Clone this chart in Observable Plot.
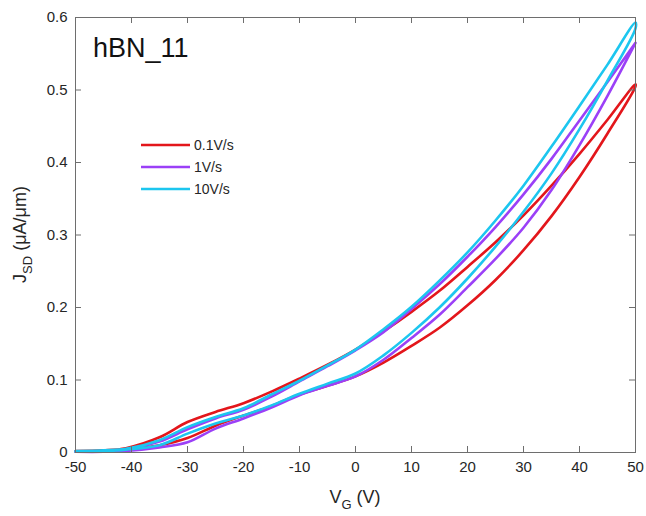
<!DOCTYPE html>
<html>
<head>
<meta charset="utf-8">
<script src="https://cdn.jsdelivr.net/npm/d3@7"></script>
<script src="https://cdn.jsdelivr.net/npm/@observablehq/plot@0.6"></script>
<style>
  html, body { margin: 0; padding: 0; background: #fff; }
  #chart { width: 646px; height: 516px; }
</style>
</head>
<body>
<div id="chart"></div>
<script>
// ---- data ----
const vg = [-50,-45,-41,-35,-30,-25,-20,-15,-10,-5,0,5,10,15,20,25,30,35,40,45,50];

const red_up    = [0.002,0.003,0.006,0.021,0.042,0.056,0.068,0.084,0.102,0.121,0.142,0.167,0.194,0.223,0.256,0.290,0.327,0.368,0.412,0.459,0.508];
const red_down  = [0.001,0.002,0.004,0.010,0.020,0.037,0.051,0.064,0.080,0.092,0.105,0.124,0.147,0.172,0.203,0.238,0.279,0.326,0.380,0.440,0.505];
const purple_up   = [0.001,0.002,0.004,0.015,0.032,0.047,0.059,0.077,0.098,0.119,0.141,0.166,0.198,0.232,0.270,0.311,0.356,0.405,0.458,0.511,0.565];
const purple_down = [0.001,0.001,0.002,0.007,0.014,0.033,0.047,0.062,0.079,0.092,0.105,0.128,0.158,0.190,0.228,0.267,0.310,0.362,0.424,0.492,0.565];
const cyan_up   = [0.002,0.003,0.005,0.017,0.035,0.049,0.061,0.080,0.099,0.120,0.142,0.170,0.201,0.237,0.276,0.320,0.368,0.422,0.478,0.535,0.593];
const cyan_down = [0.001,0.002,0.004,0.010,0.026,0.040,0.051,0.065,0.081,0.095,0.109,0.134,0.165,0.200,0.240,0.284,0.332,0.385,0.446,0.513,0.585];

const seriesNames = ["0.1V/s", "1V/s", "10V/s"];
const seriesColors = ["#e3161b", "#9b40f7", "#1cc6ef"];
const xTicks = [-50,-40,-30,-20,-10,0,10,20,30,40,50];
const yTicks = [0,0.1,0.2,0.3,0.4,0.5,0.6];
const titleText = "hBN_11";

// ---- build loop table: sweep up on lower branch, back down on upper branch ----
const branches = [
  [seriesNames[0], red_down, red_up],
  [seriesNames[1], purple_down, purple_up],
  [seriesNames[2], cyan_down, cyan_up]
];
const rows = [];
for (const [name, down, up] of branches) {
  vg.forEach((v, i) => rows.push({s: name, v, j: down[i]}));
  for (let i = vg.length - 1; i >= 0; i--) rows.push({s: name, v: vg[i], j: up[i]});
}

const W = 646, H = 516, mL = 75, mR = 11, mT = 17, mB = 64;
const innerH = H - mT - mB, innerW = W - mL - mR;
const tickLen = 6;
const frameColor = "#6e6e6e";
const fmt = d => String(d);

const chart = Plot.plot({
  width: W, height: H,
  marginLeft: mL, marginRight: mR, marginTop: mT, marginBottom: mB,
  style: {fontFamily: "'Liberation Sans', Arial, sans-serif", color: "#262626", background: "#fff"},
  x: {domain: [-50, 50]},
  y: {domain: [0, 0.6]},
  color: {domain: seriesNames, range: seriesColors},
  marks: [
    Plot.line(rows, {x: "v", y: "j", z: "s", stroke: "s", strokeWidth: 2.6, curve: "catmull-rom"}),
    Plot.frame({stroke: frameColor, strokeWidth: 1}),
    Plot.ruleX(xTicks, {x: d => d, stroke: frameColor, insetTop: innerH - tickLen}),
    Plot.ruleX(xTicks, {x: d => d, stroke: frameColor, insetBottom: innerH - tickLen}),
    Plot.ruleY(yTicks, {y: d => d, stroke: frameColor, insetRight: innerW - tickLen}),
    Plot.ruleY(yTicks, {y: d => d, stroke: frameColor, insetLeft: innerW - tickLen}),
    Plot.axisX(xTicks, {tickSize: 0, tickPadding: 9, fontSize: 15, label: null, fill: "#262626", tickFormat: fmt}),
    Plot.axisY(yTicks, {tickSize: 0, tickPadding: 8, fontSize: 15, label: null, fill: "#262626", tickFormat: fmt})
  ]
});
document.getElementById("chart").appendChild(chart);

const svg = d3.select(chart);
const ff = "'Liberation Sans', Arial, sans-serif";

// title inside plot
svg.append("text").attr("x", 93).attr("y", 57).attr("text-anchor", "start")
  .attr("font-family", ff).attr("font-size", 27).attr("fill", "#111")
  .text(titleText);

// legend
const lg = svg.append("g");
seriesNames.forEach((n, i) => {
  const yy = 145 + i * 22;
  lg.append("line").attr("x1", 141).attr("x2", 190).attr("y1", yy).attr("y2", yy)
    .attr("stroke", seriesColors[i]).attr("stroke-width", 2.6);
  lg.append("text").attr("x", 194).attr("y", yy).attr("dy", "0.36em").attr("text-anchor", "start")
    .attr("font-family", ff).attr("font-size", 14).attr("fill", "#262626").text(n);
});

// x label: V_G (V)
const xl = svg.append("text").attr("x", mL + innerW / 2).attr("y", 503)
  .attr("text-anchor", "middle").attr("font-family", ff).attr("font-size", 18).attr("fill", "#262626");
xl.append("tspan").text("V");
xl.append("tspan").attr("font-size", 13).attr("dy", 6).text("G");
xl.append("tspan").attr("dy", -6).text(" (V)");

// y label: J_SD (μA/μm)
const yl = svg.append("text").attr("transform", `translate(26,${mT + innerH / 2}) rotate(-90)`)
  .attr("text-anchor", "middle").attr("font-family", ff).attr("font-size", 18).attr("fill", "#262626");
yl.append("tspan").text("J");
yl.append("tspan").attr("font-size", 13).attr("dy", 6).text("SD");
yl.append("tspan").attr("dy", -6).text(" (μA/μm)");
</script>
</body>
</html>
